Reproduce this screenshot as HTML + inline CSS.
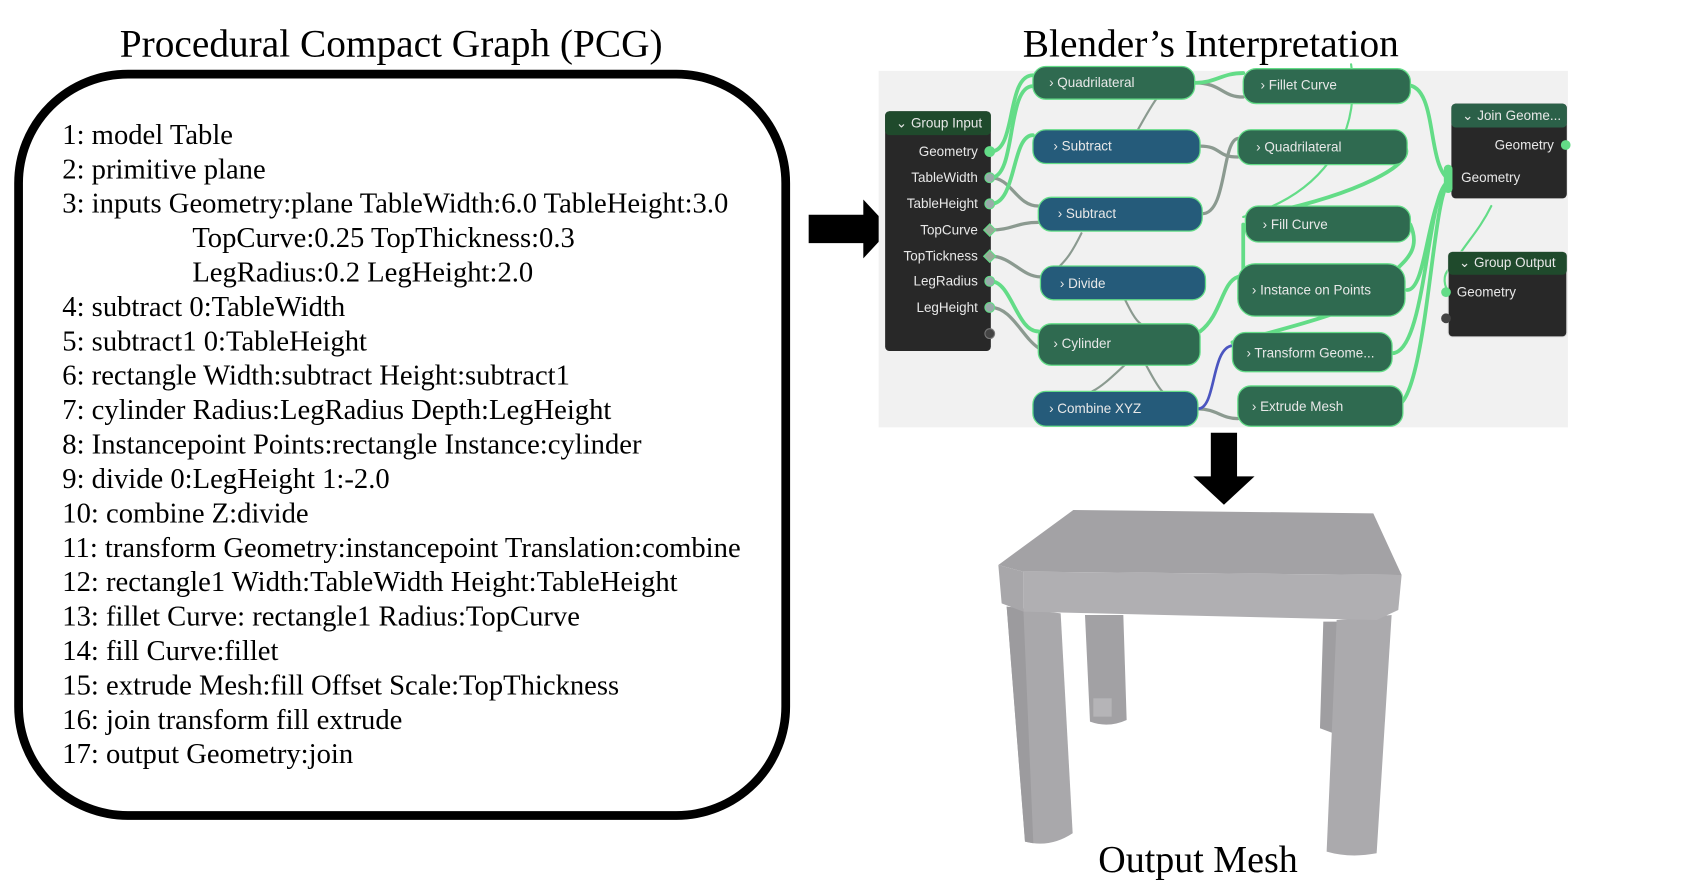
<!DOCTYPE html>
<html><head><meta charset="utf-8"><style>
html,body{margin:0;padding:0;background:#fff;}
svg{display:block;}
.t{font-family:"Liberation Serif",serif;fill:#000;}
.n{font-family:"Liberation Sans",sans-serif;fill:#e8e8e8;font-size:12.5px;}
</style></head><body>
<svg width="1696" height="894" viewBox="0 0 1696 894" xmlns="http://www.w3.org/2000/svg">
<g transform="scale(1.0928,1.0902)">
<text class="t" x="358" y="52" font-size="36" text-anchor="middle">Procedural Compact Graph (PCG)</text>
<text class="t" x="1108" y="52" font-size="36" text-anchor="middle">Blender’s Interpretation</text>
<rect x="17" y="68" width="702" height="680" rx="100" ry="100" fill="none" stroke="#000" stroke-width="8"/>
<g class="t" font-size="26.2">
<text x="57" y="132">1: model Table</text>
<text x="57" y="163.6">2: primitive plane</text>
<text x="57" y="195.1">3: inputs Geometry:plane TableWidth:6.0 TableHeight:3.0</text>
<text x="176" y="226.7">TopCurve:0.25 TopThickness:0.3</text>
<text x="176" y="258.2">LegRadius:0.2 LegHeight:2.0</text>
<text x="57" y="289.8">4: subtract 0:TableWidth</text>
<text x="57" y="321.4">5: subtract1 0:TableHeight</text>
<text x="57" y="352.9">6: rectangle Width:subtract Height:subtract1</text>
<text x="57" y="384.5">7: cylinder Radius:LegRadius Depth:LegHeight</text>
<text x="57" y="416">8: Instancepoint Points:rectangle Instance:cylinder</text>
<text x="57" y="447.6">9: divide 0:LegHeight 1:-2.0</text>
<text x="57" y="479.2">10: combine Z:divide</text>
<text x="57" y="510.7">11: transform Geometry:instancepoint Translation:combine</text>
<text x="57" y="542.3">12: rectangle1 Width:TableWidth Height:TableHeight</text>
<text x="57" y="573.8">13: fillet Curve: rectangle1 Radius:TopCurve</text>
<text x="57" y="605.4">14: fill Curve:fillet</text>
<text x="57" y="637">15: extrude Mesh:fill Offset Scale:TopThickness</text>
<text x="57" y="668.5">16: join transform fill extrude</text>
<text x="57" y="700.1">17: output Geometry:join</text>
</g>
<!-- arrows -->
<polygon points="740,197 790,197 790,183 815,210 790,237 790,223 740,223" fill="#000"/>
<polygon points="1108,397 1132,397 1132,437 1148,437 1120,463 1092,437 1108,437" fill="#000"/>
<g transform="translate(2.6,-1) scale(0.987,1)">
<rect x="812" y="66" width="639" height="327" fill="#f1f1f1"/>
<g fill="none" stroke-linecap="round">
<g stroke="#8b9a90" stroke-width="3">
<path d="M1105,77 C1130,77 1130,90 1150,90"/>
<path d="M1110,135 C1130,135 1125,145 1145,145"/>
<path d="M1112,197 C1135,197 1130,130 1145,128"/>
<path d="M916,164 C935,164 940,190 960,190"/>
<path d="M916,212 C935,212 940,205 960,205"/>
<path d="M916,236 C935,236 945,255 962,255"/>
<path d="M916,283 C935,283 945,310 960,320"/>
<path d="M1108,376 C1125,376 1130,385 1145,385"/>
<path d="M1090,66 C1060,100 1060,110 1040,140" stroke-width="2"/>
<path d="M1000,215 C990,235 985,240 980,245" stroke-width="2"/>
<path d="M1040,275 C1045,285 1050,295 1055,298" stroke-width="2"/>
<path d="M1040,336 C1030,345 1020,355 1010,360" stroke-width="2"/>
<path d="M1060,336 C1065,345 1070,355 1075,360" stroke-width="2"/>
</g>
<g stroke="#63dc87" stroke-width="3.5">
<path d="M916,140 C940,140 930,70 955,70"/>
<path d="M916,164 C940,164 930,80 955,80"/>
<path d="M916,188 C940,188 935,125 955,125"/>
<path d="M916,259 C935,259 940,305 960,305"/>
<path d="M1105,77 C1125,77 1130,68 1150,68"/>
<path d="M1302,79 C1330,80 1320,150 1340,165"/>
<path d="M1300,136 C1310,150 1260,180 1155,200"/>
<path d="M1150,207 C1150,220 1150,240 1150,250"/>
<path d="M1305,207 C1315,230 1300,240 1290,250"/>
<path d="M1302,267 C1320,267 1320,190 1340,168"/>
<path d="M1288,325 C1320,325 1320,175 1340,168"/>
<path d="M1290,374 C1320,374 1325,180 1340,170"/>
<path d="M1110,305 C1130,290 1130,260 1145,255"/>
<path d="M1140,315 C1160,310 1200,300 1230,290"/>
<path d="M1250,60 C1260,130 1220,180 1150,200" stroke-width="2"/>
<path d="M1380,190 C1370,210 1360,220 1350,235" stroke-width="2"/>
<path d="M1340,269 C1335,260 1335,250 1345,245" stroke-width="2"/>
</g>
<path d="M1108,376 C1125,376 1120,320 1140,318" stroke="#4b55c0" stroke-width="2.5"/>
</g>
<rect x="818" y="103" width="98" height="220" rx="4" fill="#282828"/>
<rect x="818" y="103" width="98" height="22" rx="4" fill="#1f4a2c"/>
<text class="n" x="828" y="118">⌄ Group Input</text>
<g class="n" text-anchor="end">
<text x="904" y="144">Geometry</text><text x="904" y="168">TableWidth</text><text x="904" y="192">TableHeight</text>
<text x="904" y="216">TopCurve</text><text x="904" y="240">TopTickness</text><text x="904" y="263">LegRadius</text><text x="904" y="287">LegHeight</text>
</g>
<g stroke="#63dc87" stroke-width="1">
<circle cx="915" cy="140" r="4.5" fill="#63dc87"/><circle cx="915" cy="164" r="4.5" fill="#9aa"/><circle cx="915" cy="188" r="4.5" fill="#9aa"/>
<rect x="911" y="208" width="8" height="8" transform="rotate(45 915 212)" fill="#9a9"/><rect x="911" y="232" width="8" height="8" transform="rotate(45 915 236)" fill="#9a9"/>
<circle cx="915" cy="259" r="4.5" fill="#9aa"/><circle cx="915" cy="283" r="4.5" fill="#9aa"/><circle cx="915" cy="307" r="4.5" fill="#444" stroke="#777"/>
</g>
<g stroke="#63dc87" stroke-width="1.2">
<rect x="955" y="62" width="150" height="30" rx="12" fill="#2f6a50"/>
<rect x="955" y="120" width="155" height="31" rx="12" fill="#255b7a"/>
<rect x="960" y="182" width="152" height="31" rx="12" fill="#255b7a"/>
<rect x="962" y="245" width="153" height="31" rx="12" fill="#255b7a"/>
<rect x="960" y="298" width="150" height="38" rx="12" fill="#2f6a50"/>
<rect x="955" y="360" width="153" height="32" rx="12" fill="#255b7a"/>
<rect x="1150" y="64" width="155" height="32" rx="12" fill="#2f6a50"/>
<rect x="1145" y="120" width="157" height="32" rx="12" fill="#2f6a50"/>
<rect x="1152" y="190" width="153" height="33" rx="12" fill="#2f6a50"/>
<rect x="1145" y="243" width="155" height="48" rx="16" fill="#2f6a50"/>
<rect x="1140" y="306" width="148" height="36" rx="12" fill="#2f6a50"/>
<rect x="1145" y="355" width="153" height="37" rx="12" fill="#2f6a50"/>
</g>
<g class="n">
<text x="970" y="81">› Quadrilateral</text>
<text x="974" y="139">› Subtract</text>
<text x="978" y="201">› Subtract</text>
<text x="980" y="265">› Divide</text>
<text x="974" y="320">› Cylinder</text>
<text x="970" y="380">› Combine XYZ</text>
<text x="1166" y="83">› Fillet Curve</text>
<text x="1162" y="140">› Quadrilateral</text>
<text x="1168" y="211">› Fill Curve</text>
<text x="1158" y="271">› Instance on Points</text>
<text x="1153" y="329">› Transform Geome...</text>
<text x="1158" y="378">› Extrude Mesh</text>
</g>
<rect x="1343" y="96" width="107" height="87" rx="4" fill="#282828"/>
<rect x="1343" y="96" width="107" height="22" rx="4" fill="#2b6048"/>
<text class="n" x="1353" y="111">⌄ Join Geome...</text>
<text class="n" x="1438" y="138" text-anchor="end">Geometry</text>
<text class="n" x="1352" y="168">Geometry</text>
<rect x="1336" y="152" width="8" height="26" rx="4" fill="#63dc87"/>
<circle cx="1449" cy="134" r="4.5" fill="#63dc87"/>
<rect x="1340" y="232" width="110" height="78" rx="4" fill="#282828" stroke="#ddd" stroke-width="1"/>
<rect x="1340" y="232" width="110" height="21" rx="4" fill="#1f4a2c"/>
<text class="n" x="1350" y="246">⌄ Group Output</text>
<text class="n" x="1348" y="273">Geometry</text>
<circle cx="1338" cy="269" r="4.5" fill="#63dc87"/><circle cx="1338" cy="293" r="4.5" fill="#444"/>
</g>
</g>
<g transform="translate(990,500) scale(0.3333)">
<path d="M50,320 L212,340 L248,1000 Q180,1045 105,1025 Z" fill="#a9a8ab"/>
<path d="M50,320 L100,325 L130,1030 L105,1025 Z" fill="#9c9b9e"/>
<path d="M285,345 L400,345 L410,660 Q355,685 300,665 Z" fill="#a2a1a4"/>
<rect x="310" y="595" width="55" height="55" fill="#b5b4b7"/>
<path d="M1000,365 L1045,365 L1030,700 L990,685 Z" fill="#9f9ea1"/>
<path d="M1040,360 L1205,345 L1160,1060 Q1080,1075 1010,1055 Z" fill="#abaaad"/>
<path d="M25,195 L250,30 L1150,40 L1235,225 L100,215 Z" fill="#a3a2a5"/>
<path d="M100,215 L1235,225 L1225,330 L1160,360 L100,335 Z" fill="#b0afb2"/>
<path d="M25,195 L100,215 L100,335 L35,310 Z" fill="#a8a7aa"/>
</g>
<text class="t" x="1198" y="872" font-size="38" text-anchor="middle">Output Mesh</text>
</svg>
</body></html>
